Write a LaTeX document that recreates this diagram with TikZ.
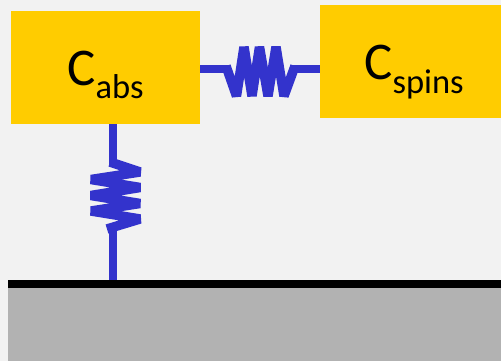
\documentclass[tikz,border=0pt]{standalone}
\usepackage{fontspec}
\setmainfont{Carlito}
\definecolor{bgc}{HTML}{F2F2F2}
\definecolor{boxc}{HTML}{FFCC00}
\definecolor{wire}{HTML}{3333CC}
\definecolor{ground}{HTML}{B2B2B2}
\tikzset{
  capbox/.style={fill=boxc,draw=none,inner sep=0pt,anchor=north west},
  lead/.style={draw=wire,line width=8pt},
  spring/.style={draw=wire,line width=9.5pt,miter limit=1,line join=bevel},
  captxt/.style={inner sep=0pt,anchor=base,font=\fontsize{53}{53}\selectfont}
}
\newcommand{\subt}[1]{\raisebox{-13.5pt}{\fontsize{34.5}{34.5}\selectfont #1}}
\begin{document}
\begin{tikzpicture}[x=1pt,y=-1pt]
\useasboundingbox (0,0) rectangle (501,361);
\fill[bgc] (0,0) rectangle (501,361);
\fill[ground] (8,284) rectangle (501,361);
\node[capbox,minimum width=189pt,minimum height=113pt] (abs) at (11,11) {};
\node[capbox,minimum width=181pt,minimum height=113pt] (spins) at (320,5) {};
\node[captxt] (tabs) at (105.5,85) {C\subt{abs}};
\node[captxt] (tspins) at (414,79.5) {C\subt{spins}};
\coordinate (floor) at (112.5,284);
\coordinate (floorL) at (8,284);
\coordinate (floorR) at (501,284);
\draw[lead] (abs.east |- 0,69.5) -- (229,69.5);
\draw[lead] (293,69.5) -- (spins.west |- 0,69.5);
\draw[spring] (226,66) -- (236.5,96) -- (244,47) -- (252,96) -- (259.5,47) -- (268,96) -- (276,47) -- (284,96) -- (295,66);
\draw[lead] (112.5,124) -- (112.5,166);
\draw[lead] (112.5,224) -- (floor);
\draw[spring] (110,162) -- (140,172) -- (91,179.5) -- (140,187.5) -- (91,195.5) -- (140,203.5) -- (91,211) -- (140,219) -- (107,229);
\draw[black,line width=8pt] (floorL) -- (floorR);
\end{tikzpicture}
\end{document}
